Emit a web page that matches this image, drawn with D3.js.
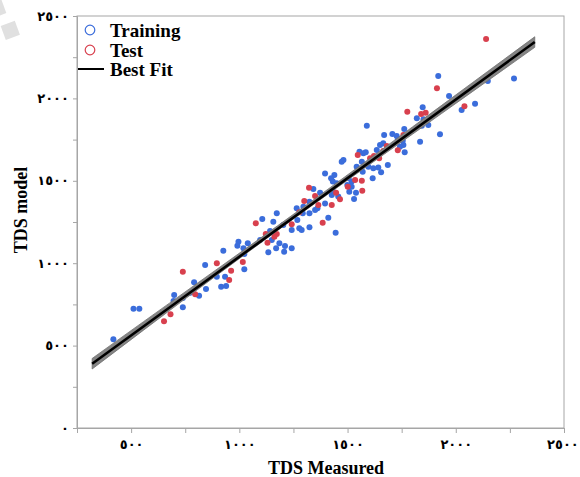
<!DOCTYPE html>
<html>
<head>
<meta charset="utf-8">
<script src="https://cdn.jsdelivr.net/npm/d3@7"></script>
<style>
  body { margin: 0; background: #fff; }
  text { font-family: "Liberation Serif", "DejaVu Serif", serif; font-weight: bold; }
</style>
</head>
<body>
<div id="chart"></div>
<script>
const svgWidth = 580;
const svgHeight = 477;

// training points (TDS measured, TDS model)
const trainX = [842, 791, 699, 696, 739, 773, 814, 846, 739, 511, 538, 418,
  1265, 1293, 1173, 1106, 1157, 1203, 1268, 1242, 1277, 1288, 1142, 1150, 1096,
  996, 1039, 991, 1019, 1185, 1170, 1211, 1134, 1207, 1242, 926, 1023, 1023,
  934, 896, 916, 939,
  1589, 1555, 1573, 1584, 1635, 1650, 1566, 1542, 1596, 1619, 1642, 1570, 1481,
  1473, 1396, 1439, 1424, 1432, 1504, 1519, 1499, 1616, 1450, 1519, 1539, 1508,
  1373, 1342, 1434, 1427, 1457, 1530, 1324, 1296, 1350, 1361, 1396, 1324, 1411,
  1324, 1445,
  1919, 1969, 1969, 1847, 1820, 1851, 1861, 1873, 1843, 1927, 1762, 1707, 1727,
  1669, 1732, 1755, 1835, 1665, 1758, 1742, 1764, 1686, 1655,
  2269, 2148, 2089, 2027];
const trainY = [989, 884, 807, 771, 789, 821, 803, 843, 732, 724, 724, 538,
  1333, 1303, 1303, 1268, 1252, 1232, 1262, 1201, 1212, 1201, 1195, 1141, 1141,
  1130, 1121, 1106, 1090, 1121, 1090, 1104, 1066, 1070, 1090, 1076, 1056, 963,
  918, 918, 857, 862,
  1834, 1677, 1667, 1673, 1687, 1717, 1616, 1586, 1586, 1576, 1580, 1555, 1626,
  1616, 1545, 1535, 1515, 1495, 1515, 1495, 1475, 1515, 1485, 1464, 1428, 1434,
  1428, 1450, 1434, 1414, 1404, 1390, 1373, 1343, 1323, 1333, 1363, 1303, 1276,
  1218, 1185,
  2136, 2015, 1964, 1946, 1879, 1873, 1865, 1839, 1834, 1782, 1814, 1784, 1772,
  1778, 1748, 1743, 1737, 1728, 1717, 1707, 1673, 1596, 1552,
  2120, 2106, 1968, 1930];

// test points
const testX = [739, 796, 682, 652, 1300, 1277, 1076, 1242, 1122, 1173, 1162, 1130,
  1016, 896, 962, 953, 1547, 1604, 1622, 1535, 1566, 1501, 1568, 1322, 1447,
  1350, 1465, 1365, 1427, 1385, 1913, 1776, 1840, 1861, 1758, 1681, 1665, 1732,
  1646, 2140, 2040];
const testY = [948, 811, 690, 647, 1377, 1309, 1242, 1236, 1177, 1177, 1161, 1124,
  1007, 999, 954, 898, 1657, 1637, 1650, 1505, 1501, 1464, 1440, 1458, 1428,
  1408, 1388, 1353, 1353, 1246, 2061, 1919, 1905, 1913, 1778, 1711, 1681, 1685,
  1637, 2360, 1952];

// best fit line and its confidence band
const fitX = [320, 2365];
const fitY = [390, 2342];
const bandX = [320, 800, 1300, 1800, 2365];
const bandLow = [358, 833, 1316, 1783, 2310];
const bandHigh = [422, 873, 1344, 1827, 2374];

const xTicks = [250, 500, 750, 1000, 1250, 1500, 1750, 2000, 2250, 2500];
const yTicks = [0, 250, 500, 750, 1000, 1250, 1500, 1750, 2000, 2250, 2500];
const legendLabels = ["Training", "Test", "Best Fit"];

const blue = "#3b6ddb";
const red = "#d8404e";
const axisGray = "#a6a6a6";

// arabic-indic digits
const digits = "٠١٢٣٤٥٦٧٨٩";
const toArabic = n => String(n).replace(/[0-9]/g, d => digits[+d]);

let xScale = d3.scaleLinear().domain([250, 2500]).range([77, 564]);
let yScale = d3.scaleLinear().domain([0, 2500]).range([428, 16]);

const svg = d3.select("#chart")
  .append("svg")
  .attr("width", svgWidth)
  .attr("height", svgHeight);

// faint watermark shapes top left
svg.append("rect").attr("x", 3).attr("y", 23).attr("width", 15).attr("height", 15)
  .attr("transform", "rotate(-20, 10, 31)").attr("fill", "#e0e0e0");
svg.append("rect").attr("x", -10).attr("y", 0).attr("width", 14).attr("height", 16)
  .attr("transform", "rotate(-20, -3, 8)").attr("fill", "#e0e0e0");

// frame
svg.append("rect")
  .attr("x", xScale(250)).attr("y", yScale(2500))
  .attr("width", xScale(2500) - xScale(250))
  .attr("height", yScale(0) - yScale(2500))
  .attr("fill", "none").attr("stroke", axisGray).attr("stroke-width", 1);

// axes
const xAxis = d3.axisBottom(xScale)
  .tickValues(xTicks)
  .tickSize(5)
  .tickPadding(7)
  .tickFormat(d => d % 500 === 0 && d > 250 ? toArabic(d) : "");
const yAxis = d3.axisLeft(yScale)
  .tickValues(yTicks)
  .tickSize(4)
  .tickPadding(4)
  .tickFormat(d => d % 500 === 0 ? toArabic(d) : "");

const gx = svg.append("g")
  .attr("transform", `translate(0, ${yScale(0)})`)
  .call(xAxis);
const gy = svg.append("g")
  .attr("transform", `translate(${xScale(250)}, 0)`)
  .call(yAxis);
[gx, gy].forEach(g => {
  g.select(".domain").attr("stroke", axisGray);
  g.selectAll(".tick line").attr("stroke", axisGray);
  g.selectAll(".tick text")
    .attr("fill", "#000")
    .style("font-family", "'DejaVu Sans', sans-serif")
    .style("font-weight", "bold")
    .style("font-size", "13px");
});
// last x label sits at the page edge, nudge it inside
gx.selectAll(".tick text").filter(d => d === 2500).attr("text-anchor", "end").attr("dx", "1.1em");

// points
svg.append("g")
  .selectAll("circle")
  .data(d3.zip(trainX, trainY))
  .enter()
  .append("circle")
  .attr("cx", d => xScale(d[0]))
  .attr("cy", d => yScale(d[1]))
  .attr("r", 3)
  .attr("fill", blue);
svg.append("g")
  .selectAll("circle")
  .data(d3.zip(testX, testY))
  .enter()
  .append("circle")
  .attr("cx", d => xScale(d[0]))
  .attr("cy", d => yScale(d[1]))
  .attr("r", 3)
  .attr("fill", red);

// band and fit line
const band = d3.area()
  .x(d => xScale(d[0]))
  .y0(d => yScale(d[1]))
  .y1(d => yScale(d[2]))
  .curve(d3.curveNatural);
svg.append("path")
  .datum(d3.zip(bandX, bandLow, bandHigh))
  .attr("d", band)
  .attr("fill", "#858585")
  .attr("stroke", "#6e6e6e")
  .attr("stroke-width", 0.8);
svg.append("line")
  .attr("x1", xScale(fitX[0])).attr("y1", yScale(fitY[0]))
  .attr("x2", xScale(fitX[1])).attr("y2", yScale(fitY[1]))
  .attr("stroke", "#000")
  .attr("stroke-width", 2.6);

// legend
const legend = svg.append("g");
legend.append("circle").attr("cx", 90).attr("cy", 30).attr("r", 4.8)
  .attr("fill", "#fff").attr("stroke", blue).attr("stroke-width", 1.2);
legend.append("circle").attr("cx", 90).attr("cy", 50).attr("r", 4.8)
  .attr("fill", "#fff").attr("stroke", red).attr("stroke-width", 1.2);
legend.append("line").attr("x1", 78).attr("x2", 104).attr("y1", 69).attr("y2", 69)
  .attr("stroke", "#000").attr("stroke-width", 2);
legend.selectAll("text")
  .data(legendLabels)
  .enter()
  .append("text")
  .attr("x", 110)
  .attr("y", (d, i) => 37 + i * 19.5)
  .style("font-size", "19px")
  .text(d => d);

// axis titles
svg.append("text")
  .attr("x", 326)
  .attr("y", 474)
  .attr("text-anchor", "middle")
  .style("font-size", "18px")
  .text("TDS Measured");
svg.append("text")
  .attr("x", 27)
  .attr("y", 210)
  .attr("text-anchor", "middle")
  .attr("transform", "rotate(-90, 27, 210)")
  .style("font-size", "18px")
  .text("TDS model");
</script>
</body>
</html>
